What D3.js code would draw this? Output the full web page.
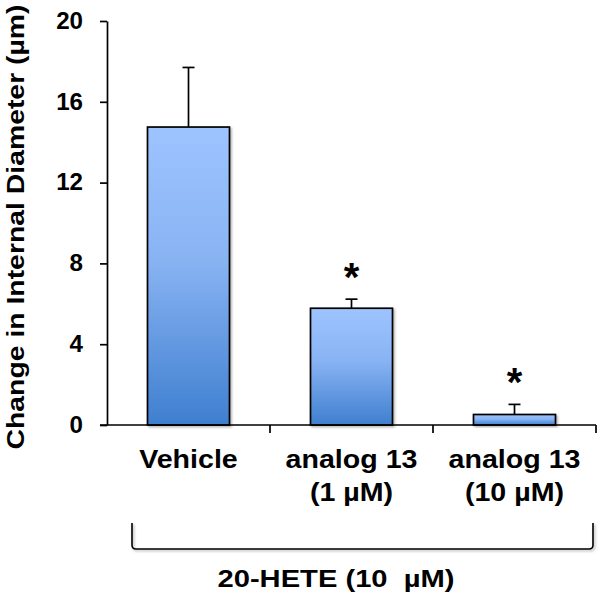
<!DOCTYPE html>
<html><head><meta charset="utf-8">
<script src="https://cdn.jsdelivr.net/npm/d3@7"></script>
<style>body{margin:0;background:#fff}svg{display:block}text{font-family:Arial,"Liberation Sans",sans-serif;font-weight:bold;fill:#000}</style>
</head><body><svg id="c" width="600" height="597"></svg>
<script>
const categories = ["Vehicle", "analog 13|(1 µM)", "analog 13|(10 µM)"];
const means = [14.75, 5.78, 0.52];
const errors = [2.95, 0.45, 0.5];
const significant = [false, true, true];
const yTicks = [0, 4, 8, 12, 16, 20];
const yLabel = "Change in Internal Diameter (µm)";
const groupLabel = "20-HETE (10  µM)";

(function(){
const svg = d3.select("#c");
const pL = 107, pR = 596, pT = 21, pB = 425;
const x = d3.scaleBand().domain(categories).range([pL, pR]).paddingInner(0).paddingOuter(0);
const y = d3.scaleLinear().domain([0, 20]).range([pB, pT]);
const barW = 82;
const stretch = (sel, k) => sel.each(function(){
  const w = this.getComputedTextLength();
  d3.select(this).attr("textLength", w*k).attr("lengthAdjust","spacingAndGlyphs");
});

const defs = svg.append("defs");
const g = defs.append("linearGradient").attr("id","bg").attr("x1",0).attr("y1",0).attr("x2",0).attr("y2",1);
g.append("stop").attr("offset","0%").attr("stop-color","#9ec4ff");
g.append("stop").attr("offset","45%").attr("stop-color","#88b3f3");
g.append("stop").attr("offset","100%").attr("stop-color","#3f7fcf");
const f = defs.append("filter").attr("id","sh").attr("x","-10%").attr("y","-10%").attr("width","130%").attr("height","130%");
f.append("feDropShadow").attr("dx",1.5).attr("dy",1.5).attr("stdDeviation",1.2).attr("flood-color","#000").attr("flood-opacity",0.3);

svg.selectAll("rect.bar").data(categories).join("rect")
  .attr("x", d => x(d) + x.bandwidth()/2 - barW/2)
  .attr("y", (d,i) => y(means[i]))
  .attr("width", barW)
  .attr("height", (d,i) => y(0) - y(means[i]))
  .attr("fill","url(#bg)").attr("stroke","#000").attr("stroke-width",1.7)
  .attr("filter","url(#sh)");

categories.forEach((c,i) => {
  const cx = x(c) + x.bandwidth()/2;
  svg.append("line").attr("x1",cx).attr("x2",cx).attr("y1",y(means[i])).attr("y2",y(means[i]+errors[i]))
    .attr("stroke","#000").attr("stroke-width",1.7);
  svg.append("line").attr("x1",cx-6).attr("x2",cx+6).attr("y1",y(means[i]+errors[i])).attr("y2",y(means[i]+errors[i]))
    .attr("stroke","#000").attr("stroke-width",1.7);
  if (significant[i]) {
    svg.append("text").attr("x",cx).attr("y",y(means[i]+errors[i]) - 8)
      .attr("text-anchor","middle").attr("font-size",40).text("*");
  }
});

const yAxis = svg.append("g").attr("transform",`translate(${pL},0)`)
  .call(d3.axisLeft(y).tickValues(yTicks).tickSize(7).tickPadding(17).tickSizeOuter(0));
yAxis.select(".domain").attr("stroke","#000").attr("stroke-width",1.7);
yAxis.selectAll(".tick line").attr("stroke","#000").attr("stroke-width",1.7);
yAxis.selectAll(".tick text").attr("font-size",23).attr("font-family","Arial, 'Liberation Sans', sans-serif").attr("font-weight","bold").attr("fill","#000");
stretch(yAxis.selectAll(".tick text"), 1.05);

svg.append("line").attr("x1",pL-7).attr("x2",pR).attr("y1",pB).attr("y2",pB).attr("stroke","#000").attr("stroke-width",1.7);
const bounds = categories.map(c => x(c) + x.bandwidth());
svg.selectAll("line.xt").data(bounds).join("line").attr("class","xt")
  .attr("x1",d=>d).attr("x2",d=>d).attr("y1",pB).attr("y2",pB+8)
  .attr("stroke","#000").attr("stroke-width",1.7);

categories.forEach(c => {
  const cx = x(c) + x.bandwidth()/2;
  c.split("|").forEach((l,k) => {
    const t = svg.append("text").attr("x",cx).attr("y",468 + k*33).attr("text-anchor","middle").attr("font-size",26).text(l);
    stretch(t, 1.1);
  });
});

const yl = svg.append("text").attr("transform",`translate(24,227) rotate(-90)`).attr("text-anchor","middle")
  .attr("font-size",24).text(yLabel);
yl.attr("textLength",445).attr("lengthAdjust","spacingAndGlyphs");

const bx1 = 132, bx2 = 593, by1 = 523, by2 = 549, r = 4;
svg.append("path")
  .attr("d",`M${bx1},${by1} L${bx1},${by2-r} Q${bx1},${by2} ${bx1+r},${by2} L${bx2-r},${by2} Q${bx2},${by2} ${bx2},${by2-r} L${bx2},${by1}`)
  .attr("fill","none").attr("stroke","#000").attr("stroke-width",1.6).attr("filter","url(#sh)");
svg.append("text").attr("x",336).attr("y",587).attr("text-anchor","middle").attr("font-size",24)
  .style("white-space","pre").text(groupLabel)
  .attr("textLength",237).attr("lengthAdjust","spacingAndGlyphs");
})();
</script></body></html>
